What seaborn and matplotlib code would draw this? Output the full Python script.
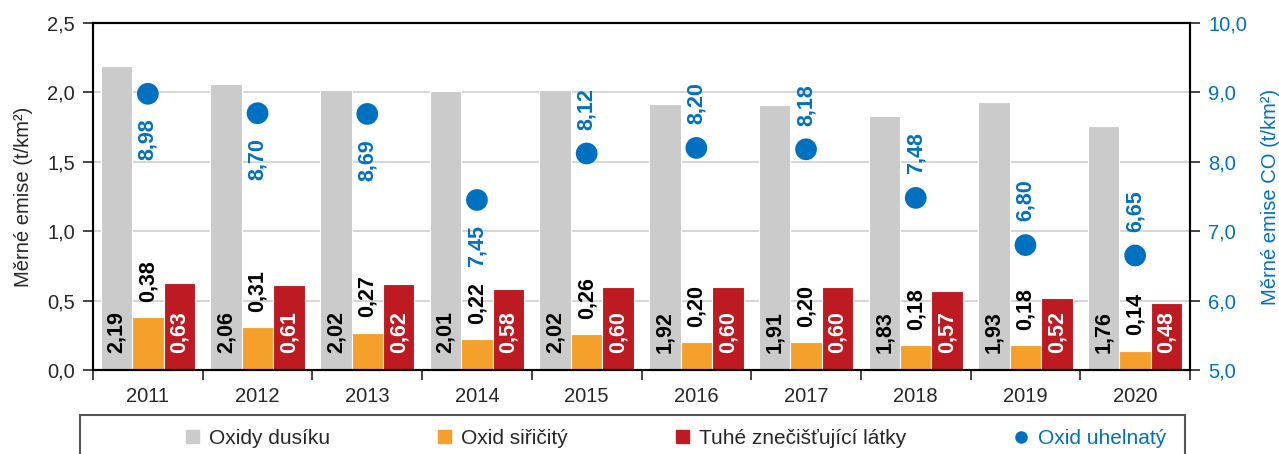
import numpy as np
import pandas as pd
import matplotlib
matplotlib.use("Agg")
import matplotlib.pyplot as plt
import seaborn as sns
from matplotlib.ticker import FuncFormatter, FixedLocator
from matplotlib.patches import Patch, Rectangle
from matplotlib.lines import Line2D

# data
years = ["2011", "2012", "2013", "2014", "2015", "2016", "2017", "2018", "2019", "2020"]
oxidy_dusiku = [2.19, 2.06, 2.02, 2.01, 2.02, 1.92, 1.91, 1.83, 1.93, 1.76]
oxid_siricity = [0.38, 0.31, 0.27, 0.22, 0.26, 0.20, 0.20, 0.18, 0.18, 0.14]
tuhe_latky = [0.63, 0.61, 0.62, 0.58, 0.60, 0.60, 0.60, 0.57, 0.52, 0.48]
oxid_uhelnaty = [8.98, 8.70, 8.69, 7.45, 8.12, 8.20, 8.18, 7.48, 6.80, 6.65]
series_names = ["Oxidy dusíku", "Oxid siřičitý", "Tuhé znečišťující látky"]
co_name = "Oxid uhelnatý"

GRAY = "#CBCBCB"
ORANGE = "#F5A02A"
RED = "#BE1A22"
BLUE = "#0070C0"
FS = 14.5
FS_LAB = 15.5

sns.set_style("white")
plt.rcParams["font.family"] = ["Liberation Sans", "DejaVu Sans"]


def cz(v, dec=2):
    return f"{v:.{dec}f}".replace(".", ",")


df = pd.DataFrame({
    "rok": years * 3,
    "latka": np.repeat(series_names, len(years)),
    "hodnota": oxidy_dusiku + oxid_siricity + tuhe_latky,
})

W, H = 1279, 454
fig = plt.figure(figsize=(W / 100, H / 100), dpi=100)
ax = fig.add_axes([93 / W, 1 - 370 / H, (1190 - 93) / W, (370 - 23) / H])

sns.barplot(data=df, x="rok", y="hodnota", hue="latka", order=years,
            hue_order=series_names, palette=[GRAY, ORANGE, RED],
            width=0.86, saturation=1, edgecolor="white", linewidth=0.8,
            legend=False, ax=ax)

ax.set_xlim(-0.5, len(years) - 0.5)
ax.set_ylim(0, 2.5)
ax.set_yticks(np.arange(0, 2.51, 0.5))
ax.yaxis.set_major_formatter(FuncFormatter(lambda v, p: cz(v, 1)))
ax.yaxis.grid(True, color="#D0D0D0", lw=1.2)
ax.set_axisbelow(True)
ax.set_xlabel("")
ax.set_ylabel("Měrné emise (t/km²)", fontsize=FS, labelpad=10)
ax.tick_params(axis="y", length=7, width=1.2, direction="out", labelsize=FS, pad=6, left=True)
ax.tick_params(axis="x", which="major", length=0, labelsize=FS, pad=12)
ax.xaxis.set_minor_locator(FixedLocator(np.arange(-0.5, len(years), 1)))
ax.tick_params(axis="x", which="minor", length=7, width=1.2, direction="out", bottom=True)
for s in ax.spines.values():
    s.set_color("black")
    s.set_linewidth(1.5)

# value labels on bars
label_style = dict(rotation=90, ha="center", va="bottom", fontsize=FS_LAB,
                   fontweight="bold", textcoords="offset points")
gray_c, orange_c, red_c = ax.containers[:3]
for bar, v in zip(gray_c, oxidy_dusiku):
    x = bar.get_x() + bar.get_width() / 2
    ax.annotate(cz(v), (x, 0), xytext=(0, 12), color="black", **label_style)
for bar, v in zip(orange_c, oxid_siricity):
    x = bar.get_x() + bar.get_width() / 2
    ax.annotate(cz(v), (x, v), xytext=(0, 11), color="black", **label_style)
for bar, v in zip(red_c, tuhe_latky):
    x = bar.get_x() + bar.get_width() / 2
    ax.annotate(cz(v), (x, 0), xytext=(0, 12), color="white", **label_style)

# CO on secondary axis
ax2 = ax.twinx()
xpos = np.arange(len(years))
sns.scatterplot(x=xpos, y=oxid_uhelnaty, color=BLUE, s=245, edgecolor="none",
                legend=False, ax=ax2, zorder=5)
ax2.set_ylim(5, 10)
ax2.set_yticks(np.arange(5, 10.01, 1))
ax2.yaxis.set_major_formatter(FuncFormatter(lambda v, p: cz(v, 1)))
ax2.tick_params(axis="y", length=7, width=1.2, direction="out", labelsize=FS,
                labelcolor=BLUE, pad=6, right=True)
ax2.set_ylabel("Měrné emise CO (t/km²)", fontsize=FS, color=BLUE, labelpad=10)
ax2.grid(False)
for s in ax2.spines.values():
    s.set_color("black")
    s.set_linewidth(1.5)
ax.set_xlim(-0.5, len(years) - 0.5)

for i, v in enumerate(oxid_uhelnaty):
    below = i < 4
    ax2.annotate(cz(v), (xpos[i], v), xytext=(0, -18 if below else 17),
                 textcoords="offset points", rotation=90, ha="center",
                 va="top" if below else "bottom", fontsize=FS_LAB,
                 fontweight="bold", color=BLUE)

# legend with its own frame
handles = [Patch(color=GRAY), Patch(color=ORANGE), Patch(color=RED),
           Line2D([], [], marker="o", ls="", color=BLUE, markersize=8)]
leg = fig.legend(handles, series_names + [co_name], loc="center",
                 bbox_to_anchor=(676 / W, 1 - 438 / H), ncol=4, frameon=False,
                 fontsize=15, handlelength=0.6, handleheight=0.6,
                 handletextpad=0.5, columnspacing=5.2)
leg.get_texts()[3].set_color(BLUE)
fig.patches.append(Rectangle((80 / W, -0.1), (1185 - 80) / W, (454 - 415) / H + 0.1,
                             transform=fig.transFigure, fill=False,
                             edgecolor="#555555", lw=1.5))

fig.savefig("out.png", dpi=100)
